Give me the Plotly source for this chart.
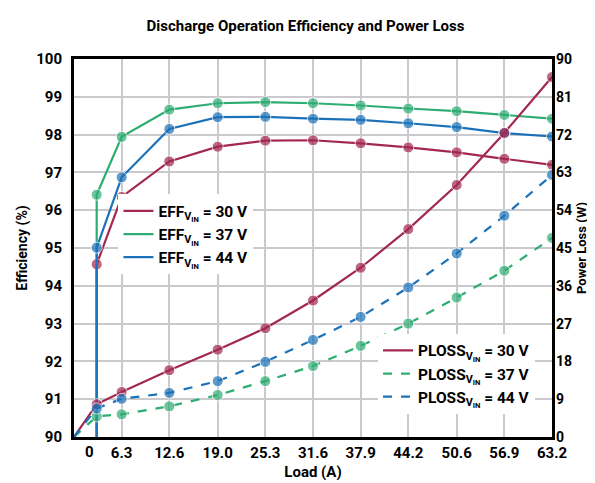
import plotly.graph_objects as go

# --- Data ---
load_eff = [3.0, 3.0, 6.3, 12.6, 19.0, 25.3, 31.6, 37.9, 44.2, 50.6, 56.9, 63.2]
eff_30 = [0, 94.57, 96.35, 97.29, 97.68, 97.84, 97.85, 97.77, 97.66, 97.53, 97.36, 97.20]
eff_37 = [0, 96.41, 97.94, 98.66, 98.83, 98.86, 98.83, 98.77, 98.69, 98.62, 98.52, 98.42]
eff_44 = [0, 95.01, 96.87, 98.15, 98.46, 98.47, 98.42, 98.39, 98.30, 98.20, 98.04, 97.95]

load_ploss = [0, 3.0, 6.3, 12.6, 19.0, 25.3, 31.6, 37.9, 44.2, 50.6, 56.9, 63.2]
ploss_30 = [0, 7.8, 10.7, 15.9, 20.8, 25.9, 32.5, 40.3, 49.5, 60.0, 72.4, 85.7]
ploss_37 = [0, 4.9, 5.4, 7.3, 10.0, 13.3, 16.9, 21.7, 27.0, 33.2, 39.6, 47.4]
ploss_44 = [0, 6.8, 9.1, 10.5, 13.3, 17.9, 23.1, 28.6, 35.6, 43.7, 52.7, 62.4]

x_ticks = [6.3, 12.6, 19.0, 25.3, 31.6, 37.9, 44.2, 50.6, 56.9, 63.2]
x_tick_text = ["6.3", "12.6", "19.0", "25.3", "31.6", "37.9", "44.2", "50.6", "56.9", "63.2"]

RED = "#A3284F"
GREEN = "#2EAD73"
BLUE = "#1C72B8"
GRID = "#CACACE"
FONT = "Roboto"

# no marker on the start-up points (the 0 W origin / off-scale efficiency)
sizes = [0] + [11] * 11

fig = go.Figure()


def label(prefix, vin):
    return f"{prefix}<sub>V<sub>IN</sub></sub> = {vin}"


# efficiency curves (left axis)
for vin, vals, color in [("30 V", eff_30, RED), ("37 V", eff_37, GREEN), ("44 V", eff_44, BLUE)]:
    fig.add_trace(
        go.Scatter(
            x=load_eff,
            y=vals,
            mode="lines+markers",
            line=dict(color=color, width=2.2),
            marker=dict(color=color, size=sizes),
            showlegend=False,
        )
    )
    # legend entry drawn as a plain line, like the original
    fig.add_trace(
        go.Scatter(
            x=[None],
            y=[None],
            mode="lines",
            name=label("EFF", vin),
            line=dict(color=color, width=2.2),
            legend="legend",
        )
    )

# power loss curves (right axis)
for vin, vals, color, dash in [
    ("30 V", ploss_30, RED, "solid"),
    ("37 V", ploss_37, GREEN, "dash"),
    ("44 V", ploss_44, BLUE, "dash"),
]:
    fig.add_trace(
        go.Scatter(
            x=load_ploss,
            y=vals,
            mode="lines+markers",
            line=dict(color=color, width=2.2, dash=dash),
            marker=dict(color=color, size=sizes),
            yaxis="y2",
            showlegend=False,
        )
    )
    fig.add_trace(
        go.Scatter(
            x=[None],
            y=[None],
            mode="lines",
            name=label("PLOSS", vin),
            line=dict(color=color, width=2.2, dash=dash),
            yaxis="y2",
            legend="legend2",
        )
    )

legend_style = dict(
    bgcolor="white",
    font=dict(family=FONT, size=15.5, color="black", weight="bold"),
    itemwidth=30,
    tracegroupgap=0,
)
tick_font = dict(family=FONT, size=15, color="black", weight="bold")
title_font = dict(family=FONT, size=14, color="black", weight="bold")

fig.update_layout(
    width=595,
    height=483,
    margin=dict(l=61, r=51, t=51, b=47),
    paper_bgcolor="white",
    plot_bgcolor="white",
    title=dict(
        text="Discharge Operation Efficiency and Power Loss",
        x=0.5,
        y=0.975,
        xanchor="center",
        yanchor="top",
        font=dict(family=FONT, size=15, color="black", weight="bold"),
    ),
    showlegend=True,
    legend=dict(x=0.093, y=0.642, xanchor="left", yanchor="top", **legend_style),
    legend2=dict(x=0.636, y=0.273, xanchor="left", yanchor="top", **legend_style),
    xaxis=dict(
        range=[0, 63.2],
        tickvals=x_ticks,
        ticktext=x_tick_text,
        showgrid=True,
        gridcolor=GRID,
        gridwidth=1.5,
        zeroline=False,
        showline=True,
        linecolor="black",
        linewidth=3,
        mirror=True,
        ticks="",
        tickfont=tick_font,
        title=dict(text="Load (A)", font=dict(family=FONT, size=15, color="black", weight="bold"), standoff=6),
    ),
    yaxis=dict(
        range=[90, 100],
        dtick=1,
        showgrid=True,
        gridcolor=GRID,
        gridwidth=1.5,
        zeroline=False,
        showline=True,
        linecolor="black",
        linewidth=3,
        mirror=True,
        ticks="",
        ticklabelstandoff=6,
        tickfont=tick_font,
        title=dict(text="Efficiency (%)", font=title_font, standoff=6),
    ),
    yaxis2=dict(
        range=[0, 90],
        dtick=9,
        overlaying="y",
        side="right",
        showgrid=False,
        zeroline=False,
        ticks="",
        ticklabelstandoff=3,
        tickfont=dict(family=FONT, size=14, color="black", weight="bold"),
        title=dict(text="Power Loss (W)", font=dict(family=FONT, size=13, color="black", weight="bold"), standoff=5),
    ),
    annotations=[
        dict(
            x=2.1,
            y=0,
            xref="x",
            yref="paper",
            yanchor="top",
            yshift=-4,
            text="0",
            showarrow=False,
            font=tick_font,
        )
    ],
)

fig.write_html("out.html")
